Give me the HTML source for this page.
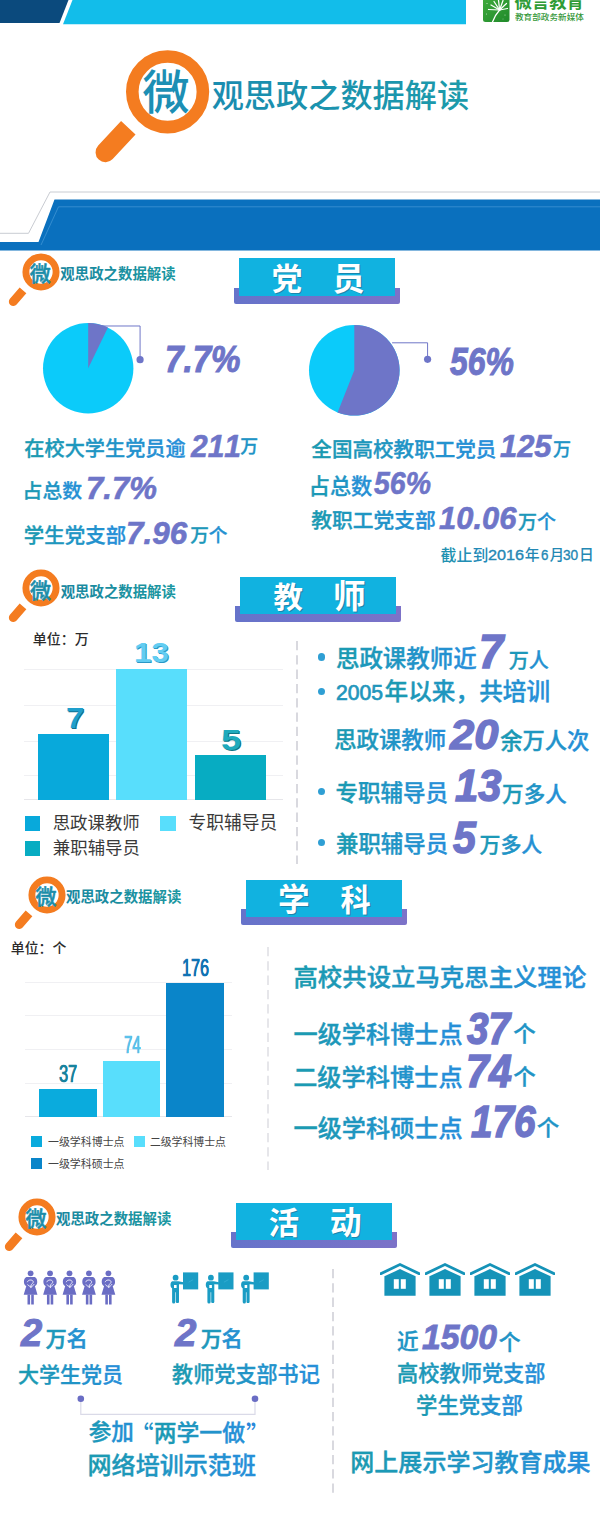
<!DOCTYPE html>
<html lang="zh"><head><meta charset="utf-8"><title>微观思政之数据解读</title>
<style>
html,body{margin:0;padding:0;background:#fff}
body{width:600px;height:1514px;position:relative;overflow:hidden;font-family:"Liberation Sans","Noto Sans CJK SC",sans-serif}
.t,.n,.b,.s{position:absolute;display:block}
.t{overflow:visible}
.n{line-height:1;font-kerning:none;white-space:nowrap;transform-origin:0 0;margin:0}
</style></head><body>
<svg class="s" style="left:0;top:0" width="600" height="30" viewBox="0 0 600 30">
<polygon points="0,0 68.5,0 59.5,23 0,23" fill="#0b4a7d"/>
<polygon points="72.5,0 466,0 466,24.3 63,24.3" fill="#12bdea"/>
<defs><linearGradient id="lgG" x1="0" y1="0" x2="1" y2="1"><stop offset="0" stop-color="#3fa93c"/><stop offset="1" stop-color="#1f8a2a"/></linearGradient></defs>
<path d="M483,0H509.500V19.500a2.500,2.500 0 0 1 -2.500,2.500H485.500a2.500,2.500 0 0 1 -2.500,-2.500Z" fill="url(#lgG)"/>
<g stroke="#fff" stroke-width="1.25" fill="none" stroke-linecap="round">
<path d="M492.5,22C494,17.500 496,14 499.600,10"/>
<path d="M499.600,10L491,5"/><path d="M499.600,10L494,1.500"/><path d="M499.600,10L498.500,0"/><path d="M499.600,10L503,0.500"/><path d="M499.600,10L506.500,3.500"/><path d="M499.600,10L507.500,8.500"/><path d="M499.600,10L488.500,9.500"/>
</g>
<g fill="#fff" opacity=".8"><circle cx="487" cy="3.500" r=".55"/><circle cx="486.500" cy="14" r=".5"/><circle cx="505" cy="15" r=".5"/><circle cx="503" cy="19" r=".4"/></g>
</svg>
<span class="n" style="left:514.41px;top:-6.2px;font-size:17.4px;font-weight:700;color:#2f9c36">微言教育</span>
<span class="n" style="left:514.98px;top:13.86px;font-size:7.85px;font-weight:500;color:#35983a;transform:scaleX(1.099)">教育部政务新媒体</span>
<svg class="s" style="left:80px;top:40px" width="150" height="140" viewBox="80 40 150 140">
<circle cx="167.6" cy="91.8" r="35.3" fill="none" stroke="#f47c20" stroke-width="12.6"/>
<path transform="translate(128.3,127.8) rotate(43)" d="M-9.9,0H9.9V33.5A9.9,9.9 0 0 1 -9.9,33.5Z" fill="#f47c20"/>
</svg>
<span class="n" style="left:142.54px;top:68.9px;font-size:47.14px;font-weight:500;color:#1c8fb4">微</span>
<span class="n" style="left:211.63px;top:79.5px;font-size:32.18px;font-weight:500;color:#1a8cb0"><span style="color:#1a8db0">观</span><span style="color:#1a8faf">思</span><span style="color:#1b91ae">政</span><span style="color:#1b93ae">之</span><span style="color:#1b94ad">数</span><span style="color:#1b96ad">据</span><span style="color:#1c98ac">解</span><span style="color:#1c9aab">读</span></span>
<svg class="s" style="left:0;top:185px" width="600" height="72" viewBox="0 185 600 72">
<polygon points="54.5,199.600 600,199.600 600,250.500 0,250.500 0,242 38.500,242" fill="#0a70be"/>
<polyline points="0,233.300 28.500,233.300 50,192 600,192" fill="none" stroke="#c9ccd2" stroke-width="1"/>
<polyline points="41,245 58.500,206.800 600,206.800" fill="none" stroke="#3f94d4" stroke-width="0.8"/>
</svg>
<svg class="s" style="left:-0.20000000000000284px;top:249.60000000000002px" width="62" height="60" viewBox="-41 -22 62 60">
<circle cx="0" cy="0" r="15.1" fill="none" stroke="#f47c20" stroke-width="6.9"/>
<path transform="translate(-18,18.3) rotate(40.5)" d="M-4.4,0H4.4V15A4.4,4.4 0 0 1 -4.4,15Z" fill="#f47c20"/>
</svg>
<span class="n" style="left:29.71px;top:262.96px;font-size:21.02px;font-weight:500;color:#1b8da9;-webkit-text-stroke:.53px #1b8da9">微</span>
<span class="n" style="left:60.36px;top:267.3px;font-size:14.41px;font-weight:700;color:#19879f"><span style="color:#19889f">观</span><span style="color:#198aa0">思</span><span style="color:#1a8ca0">政</span><span style="color:#1a8ea0">之</span><span style="color:#1a91a1">数</span><span style="color:#1a93a1">据</span><span style="color:#1b95a1">解</span><span style="color:#1b97a2">读</span></span>
<div class="b" style="left:233.7px;top:287.5px;width:166.10000000000002px;height:16.100000000000023px;background:#7471c9;border-radius:0 0 2px 2px;background:linear-gradient(90deg,#6673ca,#7c72c8)"></div>
<div class="b" style="left:239px;top:258.3px;width:155.5px;height:37.30000000000001px;background:#11b2e0;"></div>
<span class="n" style="left:271.66px;top:264.1px;font-size:30.5px;font-weight:700;color:#fff;text-shadow:1.2px 1px 0 rgba(40,80,110,.45)">党</span>
<span class="n" style="left:332.47px;top:262.5px;font-size:32.11px;font-weight:700;color:#fff;text-shadow:1.2px 1px 0 rgba(40,80,110,.45)">员</span>
<svg class="s" style="left:0.10000000000000142px;top:566.3px" width="62" height="60" viewBox="-41 -22 62 60">
<circle cx="0" cy="0" r="15.1" fill="none" stroke="#f47c20" stroke-width="6.9"/>
<path transform="translate(-18,18.3) rotate(40.5)" d="M-4.4,0H4.4V15A4.4,4.4 0 0 1 -4.4,15Z" fill="#f47c20"/>
</svg>
<span class="n" style="left:30.01px;top:579.66px;font-size:21.02px;font-weight:500;color:#1b8da9;-webkit-text-stroke:.53px #1b8da9">微</span>
<span class="n" style="left:60.66px;top:585.3px;font-size:14.41px;font-weight:700;color:#19879f"><span style="color:#19889f">观</span><span style="color:#198aa0">思</span><span style="color:#1a8ca0">政</span><span style="color:#1a8ea0">之</span><span style="color:#1a91a1">数</span><span style="color:#1a93a1">据</span><span style="color:#1b95a1">解</span><span style="color:#1b97a2">读</span></span>
<div class="b" style="left:235.0px;top:605.9000000000001px;width:166.10000000000002px;height:16.09999999999991px;background:#7471c9;border-radius:0 0 2px 2px;background:linear-gradient(90deg,#6673ca,#7c72c8)"></div>
<div class="b" style="left:240.3px;top:576.7px;width:155.5px;height:37.299999999999955px;background:#11b2e0;"></div>
<span class="n" style="left:273.5px;top:582.9px;font-size:29.39px;font-weight:700;color:#fff;text-shadow:1.2px 1px 0 rgba(40,80,110,.45)">教</span>
<span class="n" style="left:333.12px;top:581.45px;font-size:32.65px;font-weight:700;color:#fff;text-shadow:1.2px 1px 0 rgba(40,80,110,.45)">师</span>
<svg class="s" style="left:5.5px;top:872.6px" width="62" height="60" viewBox="-41 -22 62 60">
<circle cx="0" cy="0" r="15.1" fill="none" stroke="#f47c20" stroke-width="6.9"/>
<path transform="translate(-18,18.3) rotate(40.5)" d="M-4.4,0H4.4V15A4.4,4.4 0 0 1 -4.4,15Z" fill="#f47c20"/>
</svg>
<span class="n" style="left:35.41px;top:885.96px;font-size:21.02px;font-weight:500;color:#1b8da9;-webkit-text-stroke:.53px #1b8da9">微</span>
<span class="n" style="left:66.06px;top:890.3px;font-size:14.41px;font-weight:700;color:#19879f"><span style="color:#19889f">观</span><span style="color:#198aa0">思</span><span style="color:#1a8ca0">政</span><span style="color:#1a8ea0">之</span><span style="color:#1a91a1">数</span><span style="color:#1a93a1">据</span><span style="color:#1b95a1">解</span><span style="color:#1b97a2">读</span></span>
<div class="b" style="left:240.7px;top:909.2px;width:166.10000000000002px;height:16.09999999999991px;background:#7471c9;border-radius:0 0 2px 2px;background:linear-gradient(90deg,#6673ca,#7c72c8)"></div>
<div class="b" style="left:246px;top:880px;width:155.5px;height:37.299999999999955px;background:#11b2e0;"></div>
<span class="n" style="left:277.99px;top:885.45px;font-size:31.62px;font-weight:700;color:#fff;text-shadow:1.2px 1px 0 rgba(40,80,110,.45)">学</span>
<span class="n" style="left:340.6px;top:885.9px;font-size:30.16px;font-weight:700;color:#fff;text-shadow:1.2px 1px 0 rgba(40,80,110,.45)">科</span>
<svg class="s" style="left:-4.5px;top:1195px" width="62" height="60" viewBox="-41 -22 62 60">
<circle cx="0" cy="0" r="15.1" fill="none" stroke="#f47c20" stroke-width="6.9"/>
<path transform="translate(-18,18.3) rotate(40.5)" d="M-4.4,0H4.4V15A4.4,4.4 0 0 1 -4.4,15Z" fill="#f47c20"/>
</svg>
<span class="n" style="left:25.41px;top:1208.36px;font-size:21.02px;font-weight:500;color:#1b8da9;-webkit-text-stroke:.53px #1b8da9">微</span>
<span class="n" style="left:56.06px;top:1211.8px;font-size:14.41px;font-weight:700;color:#19879f"><span style="color:#19889f">观</span><span style="color:#198aa0">思</span><span style="color:#1a8ca0">政</span><span style="color:#1a8ea0">之</span><span style="color:#1a91a1">数</span><span style="color:#1a93a1">据</span><span style="color:#1b95a1">解</span><span style="color:#1b97a2">读</span></span>
<div class="b" style="left:230.7px;top:1231.9px;width:166.10000000000002px;height:16.09999999999991px;background:#7471c9;border-radius:0 0 2px 2px;background:linear-gradient(90deg,#6673ca,#7c72c8)"></div>
<div class="b" style="left:236px;top:1202.7px;width:155.5px;height:37.299999999999955px;background:#11b2e0;"></div>
<span class="n" style="left:268.64px;top:1208.5px;font-size:30.36px;font-weight:700;color:#fff;text-shadow:1.2px 1px 0 rgba(40,80,110,.45)">活</span>
<span class="n" style="left:329.67px;top:1207.6px;font-size:31.86px;font-weight:700;color:#fff;text-shadow:1.2px 1px 0 rgba(40,80,110,.45)">动</span>
<svg class="s" style="left:40.9px;top:321.0px" width="105.1" height="94.4" viewBox="40.9 321.0 105.1 94.4">
<circle cx="88.1" cy="368.2" r="45.2" fill="#0bcbfa"/>
<path d="M88.1,368.2L88.1,323.0A45.2,45.2 0 0 1 107.86,327.55Z" fill="#6e75c8"/>
<polyline points="98,326 140,326 140,359.7" fill="none" stroke="#6e75c8" stroke-width="1"/>
<circle cx="140" cy="359.7" r="3.6" fill="#6e75c8"/>
</svg>
<svg class="s" style="left:306.6px;top:322.7px" width="126.6" height="94.6" viewBox="306.6 322.7 126.6 94.6">
<circle cx="353.9" cy="370" r="45.3" fill="#0bcbfa"/>
<path d="M353.9,370L353.9,324.7A45.3,45.3 0 1 1 337.22,412.12Z" fill="#6e75c8"/>
<polyline points="391.7,342.5 427.2,342.5 427.2,359" fill="none" stroke="#6e75c8" stroke-width="1"/>
<circle cx="427.2" cy="359" r="3.6" fill="#6e75c8"/>
</svg>
<span class="n" style="left:164.60px;top:340.95px;font-size:37.77px;font-weight:700;font-style:italic;color:#6e75c8;transform:scaleX(0.8773);-webkit-text-stroke:1.02px #6e75c8;">7.7%</span>
<span class="n" style="left:449.81px;top:343.60px;font-size:37.92px;font-weight:700;font-style:italic;color:#6e75c8;transform:scaleX(0.8425);-webkit-text-stroke:1.05px #6e75c8;">56%</span>
<span class="n" style="left:24.36px;top:438.6px;font-size:20.15px;font-weight:500;color:#1a9bb0;-webkit-text-stroke-width:.32px"><span style="color:#1b9ab2">在</span><span style="color:#1c99b8">校</span><span style="color:#1e97bd">大</span><span style="color:#2095c3">学</span><span style="color:#2194c8">生</span><span style="color:#2392ce">党</span><span style="color:#2590d3">员</span><span style="color:#268fd8">逾</span></span>
<span class="n" style="left:190.75px;top:430.69px;font-size:30.98px;font-weight:700;font-style:italic;color:#6e75c8;transform:scaleX(0.9688);-webkit-text-stroke:0.57px #6e75c8;">211</span>
<span class="n" style="left:240.22px;top:439.2px;font-size:17.85px;font-weight:500;color:#2094c6;-webkit-text-stroke-width:.29px">万</span>
<span class="n" style="left:22.60px;top:481.9px;font-size:19.86px;font-weight:500;color:#1a9bb0;-webkit-text-stroke-width:.32px"><span style="color:#1c99b6">占</span><span style="color:#2095c5">总</span><span style="color:#2590d4">数</span></span>
<span class="n" style="left:86.14px;top:473.30px;font-size:31.49px;font-weight:700;font-style:italic;color:#6e75c8;transform:scaleX(0.9881);-webkit-text-stroke:0.62px #6e75c8;">7.7%</span>
<span class="n" style="left:23.81px;top:525.7px;font-size:20.47px;font-weight:500;color:#1a9bb0;-webkit-text-stroke-width:.33px"><span style="color:#1b9ab4">学</span><span style="color:#1e97bd">生</span><span style="color:#2095c5">党</span><span style="color:#2392ce">支</span><span style="color:#268fd7">部</span></span>
<span class="n" style="left:125.92px;top:517.99px;font-size:31.19px;font-weight:700;font-style:italic;color:#6e75c8;transform:scaleX(1.0067);-webkit-text-stroke:0.62px #6e75c8;">7.96</span>
<span class="n" style="left:190.20px;top:526.8px;font-size:18.64px;font-weight:500;color:#1a9bb0;-webkit-text-stroke-width:.3px"><span style="color:#1d98ba">万</span><span style="color:#2491d1">个</span></span>
<span class="n" style="left:311.37px;top:439.65px;font-size:20.56px;font-weight:500;color:#1a9bb0;-webkit-text-stroke-width:.33px"><span style="color:#1b9ab2">全</span><span style="color:#1c99b7">国</span><span style="color:#1e97bc">高</span><span style="color:#1f96c1">校</span><span style="color:#2194c6">教</span><span style="color:#2293ca">职</span><span style="color:#2392cf">工</span><span style="color:#2590d4">党</span><span style="color:#268fd9">员</span></span>
<span class="n" style="left:499.82px;top:431.17px;font-size:31.31px;font-weight:700;font-style:italic;color:#6e75c8;transform:scaleX(0.9859);-webkit-text-stroke:0.63px #6e75c8;">125</span>
<span class="n" style="left:553.01px;top:440.5px;font-size:18.07px;font-weight:500;color:#2094c6;-webkit-text-stroke-width:.29px">万</span>
<span class="n" style="left:308.71px;top:475.7px;font-size:21.17px;font-weight:500;color:#1a9bb0;-webkit-text-stroke-width:.34px"><span style="color:#1c99b6">占</span><span style="color:#2095c5">总</span><span style="color:#2590d4">数</span></span>
<span class="n" style="left:374.02px;top:468.51px;font-size:30.93px;font-weight:700;font-style:italic;color:#6e75c8;transform:scaleX(0.9202);-webkit-text-stroke:0.6px #6e75c8;">56%</span>
<span class="n" style="left:311.26px;top:510.7px;font-size:20.77px;font-weight:500;color:#1a9bb0;-webkit-text-stroke-width:.33px"><span style="color:#1b9ab3">教</span><span style="color:#1d98bb">职</span><span style="color:#1f96c2">工</span><span style="color:#2293c9">党</span><span style="color:#2491d0">支</span><span style="color:#268fd8">部</span></span>
<span class="n" style="left:439.10px;top:503.71px;font-size:30.93px;font-weight:700;font-style:italic;color:#6e75c8;transform:scaleX(1.0004);-webkit-text-stroke:0.6px #6e75c8;">10.06</span>
<span class="n" style="left:517.99px;top:512.6px;font-size:19px;font-weight:500;color:#1a9bb0;-webkit-text-stroke-width:.3px"><span style="color:#1d98ba">万</span><span style="color:#2491d1">个</span></span>
<span class="n" style="left:440.54px;top:547.9px;font-size:15.91px;font-weight:500;color:#1f93b0"><span style="color:#2091b1">截</span><span style="color:#228eb4">止</span><span style="color:#238ab7">到</span></span>
<span class="n" style="left:487.86px;top:547.99px;font-size:14.76px;;color:#2488b4;transform:scaleX(1.1020);-webkit-text-stroke:0.35px #2488b4;">2016</span>
<span class="n" style="left:524.85px;top:548.4px;font-size:14.79px;font-weight:500;color:#2488b4">年</span>
<span class="n" style="left:540.50px;top:547.99px;font-size:14.76px;;color:#2488b4;transform:scaleX(0.9030);-webkit-text-stroke:0.35px #2488b4;">6</span>
<span class="n" style="left:549.63px;top:548.25px;font-size:14.3px;font-weight:500;color:#2488b4">月</span>
<span class="n" style="left:563.15px;top:547.99px;font-size:14.76px;;color:#2488b4;transform:scaleX(0.9261);-webkit-text-stroke:0.35px #2488b4;">30</span>
<span class="n" style="left:579.02px;top:548px;font-size:14.84px;font-weight:500;color:#2488b4">日</span>
<span class="n" style="left:32.79px;top:633.35px;font-size:13.96px;font-weight:500;color:#2b2b2b">单位：万</span>
<div class="b" style="left:24px;top:669px;width:259px;height:1px;background:#f0f0f3;"></div>
<div class="b" style="left:24px;top:705px;width:259px;height:1px;background:#f0f0f3;"></div>
<div class="b" style="left:24px;top:741px;width:259px;height:1px;background:#f0f0f3;"></div>
<div class="b" style="left:24px;top:775px;width:259px;height:1px;background:#f0f0f3;"></div>
<div class="b" style="left:24px;top:799px;width:259px;height:1px;background:#e6e6ea;"></div>
<div class="b" style="left:37.5px;top:734px;width:71.5px;height:65.5px;background:#08a9db;"></div>
<div class="b" style="left:116.3px;top:669px;width:70.89999999999999px;height:130.5px;background:#58defc;"></div>
<div class="b" style="left:195px;top:755px;width:71px;height:44.5px;background:#07acc2;"></div>
<span class="n" style="left:65.88px;top:703.25px;font-size:29.94px;font-weight:700;color:#1f9fcc;transform:scaleX(1.1032);text-shadow:0.9px 0.9px 0.6px #136f8f;">7</span>
<span class="n" style="left:134.33px;top:638.66px;font-size:27.91px;font-weight:700;color:#62cdf2;transform:scaleX(1.1211);text-shadow:0.9px 0.9px 0.6px #2a98c6;">13</span>
<span class="n" style="left:220.89px;top:725.12px;font-size:29.52px;font-weight:700;color:#1faabc;transform:scaleX(1.2254);text-shadow:0.9px 0.9px 0.6px #0f7585;">5</span>
<div class="b" style="left:25px;top:816px;width:15px;height:15px;background:#08a9db;"></div>
<span class="n" style="left:52.64px;top:815.3px;font-size:17.45px;color:#3a3a3a">思政课教师</span>
<div class="b" style="left:160px;top:816px;width:16px;height:15px;background:#58defc;"></div>
<span class="n" style="left:188.51px;top:815.2px;font-size:17.73px;color:#3a3a3a">专职辅导员</span>
<div class="b" style="left:25px;top:841px;width:15px;height:15px;background:#07acc2;"></div>
<span class="n" style="left:52.82px;top:840.3px;font-size:17.46px;color:#3a3a3a">兼职辅导员</span>
<svg class="s" style="left:294.8px;top:641px" width="4" height="223"><line x1="2" y1="0" x2="2" y2="223" stroke="#d9d9df" stroke-width="2" stroke-dasharray="9.3 5"/></svg>
<svg class="s" style="left:265.9px;top:946.5px" width="4" height="223.5"><line x1="2" y1="0" x2="2" y2="223.5" stroke="#e6e6ea" stroke-width="2" stroke-dasharray="9.3 5"/></svg>
<svg class="s" style="left:331.4px;top:1268.6px" width="4" height="225.9000000000001"><line x1="2" y1="0" x2="2" y2="225.9000000000001" stroke="#d9d9df" stroke-width="2" stroke-dasharray="9.3 5"/></svg>
<div class="b" style="left:318.09999999999997px;top:653.4px;width:7.2px;height:7.2px;border-radius:50%;background:#2f9fd4"></div>
<span class="n" style="left:335.99px;top:648px;font-size:23.45px;font-weight:500;color:#1a9bb0;-webkit-text-stroke-width:.38px"><span style="color:#1b9ab3">思</span><span style="color:#1d98bb">政</span><span style="color:#1f96c2">课</span><span style="color:#2293c9">教</span><span style="color:#2491d0">师</span><span style="color:#268fd8">近</span></span>
<span class="n" style="left:479.28px;top:626.67px;font-size:48.21px;font-weight:700;font-style:italic;color:#6e75c8;transform:scaleX(0.9029);-webkit-text-stroke:1.63px #6e75c8;">7</span>
<span class="n" style="left:508.76px;top:650.8px;font-size:20.06px;font-weight:500;color:#1a9bb0;-webkit-text-stroke-width:.32px"><span style="color:#1d98ba">万</span><span style="color:#2491d1">人</span></span>
<div class="b" style="left:318.09999999999997px;top:688.0px;width:7.2px;height:7.2px;border-radius:50%;background:#2f9fd4"></div>
<span class="n" style="left:336.29px;top:682.15px;font-size:21.61px;;color:#1f96bc;transform:scaleX(0.9787);-webkit-text-stroke:0.7px #1f96bc;">2005</span>
<span class="n" style="left:384.46px;top:681.4px;font-size:23.67px;font-weight:500;color:#1a9bb0;-webkit-text-stroke-width:.38px"><span style="color:#1b9ab3">年</span><span style="color:#1d98b9">以</span><span style="color:#1f96bf">来</span><span style="color:#2095c4">，</span><span style="color:#2293cc">共</span><span style="color:#2491d2">培</span><span style="color:#268fd8">训</span></span>
<span class="n" style="left:334.24px;top:730.2px;font-size:22.37px;font-weight:500;color:#1a9bb0;-webkit-text-stroke-width:.36px"><span style="color:#1b9ab4">思</span><span style="color:#1e97bd">政</span><span style="color:#2194c6">课</span><span style="color:#2392ce">教</span><span style="color:#268fd7">师</span></span>
<span class="n" style="left:450.38px;top:712.91px;font-size:43.09px;font-weight:700;font-style:italic;color:#6e75c8;transform:scaleX(1.0130);-webkit-text-stroke:1.39px #6e75c8;">20</span>
<span class="n" style="left:500.26px;top:730.95px;font-size:22.24px;font-weight:500;color:#1a9bb0;-webkit-text-stroke-width:.36px"><span style="color:#1c99b5">余</span><span style="color:#1f96c0">万</span><span style="color:#2293cb">人</span><span style="color:#2590d6">次</span></span>
<div class="b" style="left:318.09999999999997px;top:788.1px;width:7.2px;height:7.2px;border-radius:50%;background:#2f9fd4"></div>
<span class="n" style="left:335.61px;top:782.5px;font-size:22.49px;font-weight:500;color:#1a9bb0;-webkit-text-stroke-width:.36px"><span style="color:#1b9ab4">专</span><span style="color:#1e97bd">职</span><span style="color:#2095c5">辅</span><span style="color:#2392ce">导</span><span style="color:#268fd7">员</span></span>
<span class="n" style="left:454.58px;top:763.60px;font-size:44.90px;font-weight:700;font-style:italic;color:#6e75c8;transform:scaleX(0.9276);-webkit-text-stroke:1.51px #6e75c8;">13</span>
<span class="n" style="left:502.12px;top:783.7px;font-size:21.57px;font-weight:500;color:#1a9bb0;-webkit-text-stroke-width:.35px"><span style="color:#1c99b7">万</span><span style="color:#2194c6">多</span><span style="color:#2590d4">人</span></span>
<div class="b" style="left:318.09999999999997px;top:838.6999999999999px;width:7.2px;height:7.2px;border-radius:50%;background:#2f9fd4"></div>
<span class="n" style="left:335.99px;top:834px;font-size:22.42px;font-weight:500;color:#1a9bb0;-webkit-text-stroke-width:.36px"><span style="color:#1b9ab4">兼</span><span style="color:#1e97bd">职</span><span style="color:#2194c6">辅</span><span style="color:#2392ce">导</span><span style="color:#268fd7">员</span></span>
<span class="n" style="left:452.92px;top:815.66px;font-size:44.51px;font-weight:700;font-style:italic;color:#6e75c8;transform:scaleX(0.9242);-webkit-text-stroke:1.44px #6e75c8;">5</span>
<span class="n" style="left:479.43px;top:835.2px;font-size:20.96px;font-weight:500;color:#1a9bb0;-webkit-text-stroke-width:.34px"><span style="color:#1c99b7">万</span><span style="color:#2194c6">多</span><span style="color:#2590d4">人</span></span>
<span class="n" style="left:10.79px;top:942.1px;font-size:13.89px;font-weight:500;color:#2b2b2b">单位：个</span>
<div class="b" style="left:25px;top:982px;width:207px;height:1px;background:#f0f0f3;"></div>
<div class="b" style="left:25px;top:1015px;width:207px;height:1px;background:#f0f0f3;"></div>
<div class="b" style="left:25px;top:1048.5px;width:207px;height:1.0px;background:#f0f0f3;"></div>
<div class="b" style="left:25px;top:1082.5px;width:207px;height:1.0px;background:#f0f0f3;"></div>
<div class="b" style="left:25px;top:1116px;width:207px;height:1px;background:#e6e6ea;"></div>
<div class="b" style="left:39px;top:1089px;width:57.5px;height:27.5px;background:#0aabdd;"></div>
<div class="b" style="left:102.5px;top:1061px;width:57.5px;height:55.5px;background:#58defc;"></div>
<div class="b" style="left:166px;top:982.5px;width:57.5px;height:134.0px;background:#0a85c9;"></div>
<span class="n" style="left:59.03px;top:1061.99px;font-size:24.72px;;color:#17849f;transform:scaleX(0.6599);text-shadow:0.4px 0.4px 0.3px #0e5f75;-webkit-text-stroke:0.7px #17849f;">37</span>
<span class="n" style="left:123.59px;top:1032.93px;font-size:24.71px;;color:#5cc3ec;transform:scaleX(0.6001);text-shadow:0.4px 0.4px 0.3px #2b97c4;-webkit-text-stroke:0.7px #5cc3ec;">74</span>
<span class="n" style="left:181.83px;top:956.27px;font-size:24.15px;;color:#0f74b6;transform:scaleX(0.6658);text-shadow:0.4px 0.4px 0.3px #0a5286;-webkit-text-stroke:0.7px #0f74b6;">176</span>
<div class="b" style="left:30.8px;top:1136.3px;width:11.2px;height:11.0px;background:#0aabdd;"></div>
<span class="n" style="left:48.02px;top:1136.9px;font-size:10.93px;color:#444">一级学科博士点</span>
<div class="b" style="left:134px;top:1136.3px;width:11.199999999999989px;height:11.0px;background:#58defc;"></div>
<span class="n" style="left:149.88px;top:1136.95px;font-size:10.88px;color:#444">二级学科博士点</span>
<div class="b" style="left:30.8px;top:1158.2px;width:11.2px;height:11.0px;background:#0a85c9;"></div>
<span class="n" style="left:48.02px;top:1158.9px;font-size:10.93px;color:#444">一级学科硕士点</span>
<span class="n" style="left:293.41px;top:966.2px;font-size:24.4px;font-weight:500;color:#1a9bb0;-webkit-text-stroke-width:.39px"><span style="color:#1a9bb2">高</span><span style="color:#1c99b5">校</span><span style="color:#1d98b9">共</span><span style="color:#1e97bc">设</span><span style="color:#1f96c0">立</span><span style="color:#2095c4">马</span><span style="color:#2194c7">克</span><span style="color:#2293cb">思</span><span style="color:#2392ce">主</span><span style="color:#2491d2">义</span><span style="color:#2590d6">理</span><span style="color:#268fd9">论</span></span>
<span class="n" style="left:293.48px;top:1023.2px;font-size:24.18px;font-weight:500;color:#1a9bb0;-webkit-text-stroke-width:.39px"><span style="color:#1b9ab3">一</span><span style="color:#1d98b9">级</span><span style="color:#1f96bf">学</span><span style="color:#2095c5">科</span><span style="color:#2293cc">博</span><span style="color:#2491d2">士</span><span style="color:#268fd8">点</span></span>
<span class="n" style="left:467.12px;top:1007.22px;font-size:43.87px;font-weight:700;font-style:italic;color:#6e75c8;transform:scaleX(0.8842);-webkit-text-stroke:1.44px #6e75c8;">37</span>
<span class="n" style="left:513.13px;top:1024.35px;font-size:22.43px;font-weight:500;color:#2094c6;-webkit-text-stroke-width:.36px">个</span>
<span class="n" style="left:293.14px;top:1066.35px;font-size:24.22px;font-weight:500;color:#1a9bb0;-webkit-text-stroke-width:.39px"><span style="color:#1b9ab3">二</span><span style="color:#1d98b9">级</span><span style="color:#1f96bf">学</span><span style="color:#2095c5">科</span><span style="color:#2293cc">博</span><span style="color:#2491d2">士</span><span style="color:#268fd8">点</span></span>
<span class="n" style="left:465.87px;top:1048.98px;font-size:45.81px;font-weight:700;font-style:italic;color:#6e75c8;transform:scaleX(0.8987);-webkit-text-stroke:1.48px #6e75c8;">74</span>
<span class="n" style="left:513.13px;top:1067.35px;font-size:22.43px;font-weight:500;color:#2094c6;-webkit-text-stroke-width:.36px">个</span>
<span class="n" style="left:293.48px;top:1116.8px;font-size:24.18px;font-weight:500;color:#1a9bb0;-webkit-text-stroke-width:.39px"><span style="color:#1b9ab3">一</span><span style="color:#1d98b9">级</span><span style="color:#1f96bf">学</span><span style="color:#2095c5">科</span><span style="color:#2293cc">硕</span><span style="color:#2491d2">士</span><span style="color:#268fd8">点</span></span>
<span class="n" style="left:470.59px;top:1101.24px;font-size:43.62px;font-weight:700;font-style:italic;color:#6e75c8;transform:scaleX(0.8863);-webkit-text-stroke:1.42px #6e75c8;">176</span>
<span class="n" style="left:536.93px;top:1118.15px;font-size:22.22px;font-weight:500;color:#2094c6;-webkit-text-stroke-width:.36px">个</span>
<svg class="s" style="left:15px;top:1265px" width="110" height="45" viewBox="15 1265 110 45" fill="#6a6dc4"><g transform="translate(30.6,1273.3)"><circle r="2.9"/><path d="M-3.2,3.8H3.200C5.800,3.800 6.800,6.500 6.600,9.500C6.500,11.500 5,12.600 4.300,12.800L6.900,21.400H-6.900L-4.300,12.800C-5,12.600 -6.500,11.500 -6.600,9.500C-6.800,6.500 -5.800,3.800 -3.200,3.800Z"/><rect x="-3.1" y="21.2" width="2.6" height="10"/><rect x="0.6" y="21.2" width="2.6" height="10"/><g fill="none" stroke="#efeffa" stroke-width=".95" stroke-linecap="round"><path d="M-3.200,8.500C-2.500,6.300 1.800,6 2.600,8.200C3.200,10 0.500,10.500 0.300,12.200"/><path d="M-2.800,11.500C-1.500,14 2.500,13.600 3.400,11.200"/><circle cx="0.200" cy="13.800" r=".3"/></g></g><g transform="translate(50.05,1273.3)"><circle r="2.9"/><path d="M-3.2,3.8H3.200C5.800,3.800 6.800,6.500 6.600,9.500C6.500,11.500 5,12.600 4.300,12.800L6.900,21.400H-6.900L-4.300,12.800C-5,12.600 -6.500,11.500 -6.600,9.500C-6.800,6.500 -5.800,3.800 -3.200,3.800Z"/><rect x="-3.1" y="21.2" width="2.6" height="10"/><rect x="0.6" y="21.2" width="2.6" height="10"/><g fill="none" stroke="#efeffa" stroke-width=".95" stroke-linecap="round"><path d="M-3.200,8.500C-2.500,6.300 1.800,6 2.600,8.200C3.200,10 0.500,10.500 0.300,12.200"/><path d="M-2.800,11.500C-1.500,14 2.500,13.600 3.400,11.200"/><circle cx="0.200" cy="13.800" r=".3"/></g></g><g transform="translate(69.5,1273.3)"><circle r="2.9"/><path d="M-3.2,3.8H3.200C5.800,3.800 6.800,6.500 6.600,9.500C6.500,11.500 5,12.600 4.300,12.800L6.900,21.400H-6.900L-4.300,12.800C-5,12.600 -6.500,11.500 -6.600,9.500C-6.800,6.500 -5.800,3.800 -3.200,3.800Z"/><rect x="-3.1" y="21.2" width="2.6" height="10"/><rect x="0.6" y="21.2" width="2.6" height="10"/><g fill="none" stroke="#efeffa" stroke-width=".95" stroke-linecap="round"><path d="M-3.200,8.500C-2.500,6.300 1.800,6 2.600,8.200C3.200,10 0.500,10.500 0.300,12.200"/><path d="M-2.800,11.500C-1.500,14 2.500,13.600 3.400,11.200"/><circle cx="0.200" cy="13.800" r=".3"/></g></g><g transform="translate(88.94999999999999,1273.3)"><circle r="2.9"/><path d="M-3.2,3.8H3.200C5.800,3.800 6.800,6.500 6.600,9.500C6.500,11.500 5,12.600 4.300,12.800L6.900,21.400H-6.900L-4.300,12.800C-5,12.600 -6.500,11.500 -6.600,9.500C-6.800,6.500 -5.800,3.800 -3.200,3.800Z"/><rect x="-3.1" y="21.2" width="2.6" height="10"/><rect x="0.6" y="21.2" width="2.6" height="10"/><g fill="none" stroke="#efeffa" stroke-width=".95" stroke-linecap="round"><path d="M-3.200,8.500C-2.500,6.300 1.800,6 2.600,8.200C3.200,10 0.500,10.500 0.300,12.200"/><path d="M-2.800,11.500C-1.500,14 2.500,13.600 3.400,11.200"/><circle cx="0.200" cy="13.800" r=".3"/></g></g><g transform="translate(108.4,1273.3)"><circle r="2.9"/><path d="M-3.2,3.8H3.200C5.800,3.800 6.800,6.500 6.600,9.500C6.500,11.500 5,12.600 4.300,12.800L6.900,21.400H-6.900L-4.300,12.800C-5,12.600 -6.500,11.500 -6.600,9.500C-6.800,6.500 -5.800,3.800 -3.200,3.800Z"/><rect x="-3.1" y="21.2" width="2.6" height="10"/><rect x="0.6" y="21.2" width="2.6" height="10"/><g fill="none" stroke="#efeffa" stroke-width=".95" stroke-linecap="round"><path d="M-3.200,8.500C-2.500,6.300 1.800,6 2.600,8.200C3.200,10 0.500,10.500 0.300,12.200"/><path d="M-2.800,11.500C-1.500,14 2.500,13.600 3.400,11.200"/><circle cx="0.200" cy="13.800" r=".3"/></g></g></svg>
<svg class="s" style="left:165px;top:1268px" width="110" height="40" viewBox="165 1268 110 40" fill="#1a9cc4"><g transform="translate(175.6,1277.7)"><circle r="2.9"/><path d="M-3.300,3.600H2.800L8,4.600V6.800L3.400,6.600V24.200A1.600,1.600 0 0 1 0.300,24.200V14.500H-0.300V24.200A1.600,1.600 0 0 1 -3.500,24.200V10.500C-5.500,10 -5.800,4.200 -3.300,3.600Z"/><rect x="7.400" y="-5.300" width="15.200" height="17"/><rect x="-1.600" y="7.300" width="2.600" height="3" fill="#fff"/><path d="M13,4.500L17.500,2" stroke="#3fb3d8" stroke-width=".6"/></g><g transform="translate(210.89999999999998,1277.7)"><circle r="2.9"/><path d="M-3.300,3.600H2.800L8,4.600V6.800L3.400,6.600V24.200A1.600,1.600 0 0 1 0.300,24.200V14.500H-0.300V24.200A1.600,1.600 0 0 1 -3.500,24.200V10.500C-5.500,10 -5.800,4.200 -3.300,3.600Z"/><rect x="7.400" y="-5.300" width="15.200" height="17"/><rect x="-1.600" y="7.300" width="2.600" height="3" fill="#fff"/><path d="M13,4.500L17.500,2" stroke="#3fb3d8" stroke-width=".6"/></g><g transform="translate(246.2,1277.7)"><circle r="2.9"/><path d="M-3.300,3.600H2.800L8,4.600V6.800L3.400,6.600V24.200A1.600,1.600 0 0 1 0.300,24.200V14.500H-0.300V24.200A1.600,1.600 0 0 1 -3.500,24.200V10.500C-5.500,10 -5.800,4.200 -3.300,3.600Z"/><rect x="7.400" y="-5.300" width="15.200" height="17"/><rect x="-1.600" y="7.300" width="2.600" height="3" fill="#fff"/><path d="M13,4.500L17.500,2" stroke="#3fb3d8" stroke-width=".6"/></g></svg>
<svg class="s" style="left:375px;top:1260px" width="185" height="40" viewBox="375 1260 185 40" fill="#1593b8"><g transform="translate(400,1263.3)"><path d="M0,-0.300L20,9.200V11.600L18.600,11.600L0,2.800L-18.600,11.600L-20,11.600V9.200Z"/><path d="M0,5.800L15.600,13V32.500H-15.600V13Z"/><rect x="-6.200" y="15.900" width="5" height="9.600" fill="#fff"/><rect x="0.800" y="15.900" width="5" height="9.600" fill="#fff"/></g><g transform="translate(445,1263.3)"><path d="M0,-0.300L20,9.200V11.600L18.600,11.600L0,2.800L-18.600,11.600L-20,11.600V9.200Z"/><path d="M0,5.800L15.600,13V32.500H-15.600V13Z"/><rect x="-6.200" y="15.900" width="5" height="9.600" fill="#fff"/><rect x="0.800" y="15.900" width="5" height="9.600" fill="#fff"/></g><g transform="translate(490,1263.3)"><path d="M0,-0.300L20,9.200V11.600L18.600,11.600L0,2.800L-18.600,11.600L-20,11.600V9.200Z"/><path d="M0,5.800L15.600,13V32.500H-15.600V13Z"/><rect x="-6.200" y="15.900" width="5" height="9.600" fill="#fff"/><rect x="0.800" y="15.900" width="5" height="9.600" fill="#fff"/></g><g transform="translate(535,1263.3)"><path d="M0,-0.300L20,9.200V11.600L18.600,11.600L0,2.800L-18.600,11.600L-20,11.600V9.200Z"/><path d="M0,5.800L15.600,13V32.500H-15.600V13Z"/><rect x="-6.200" y="15.900" width="5" height="9.600" fill="#fff"/><rect x="0.800" y="15.900" width="5" height="9.600" fill="#fff"/></g></svg>
<span class="n" style="left:21.15px;top:1313.03px;font-size:39.24px;font-weight:700;font-style:italic;color:#6e75c8;transform:scaleX(0.9712);-webkit-text-stroke:1.1px #6e75c8;">2</span>
<span class="n" style="left:45.74px;top:1328.85px;font-size:20.92px;font-weight:500;color:#1a9bb0;-webkit-text-stroke-width:.63px"><span style="color:#1d98bb">万</span><span style="color:#2491d1">名</span></span>
<span class="n" style="left:17.96px;top:1364.2px;font-size:21.01px;font-weight:500;color:#1a9bb0;-webkit-text-stroke-width:.34px"><span style="color:#1b9ab4">大</span><span style="color:#1e97bd">学</span><span style="color:#2194c6">生</span><span style="color:#2392ce">党</span><span style="color:#268fd7">员</span></span>
<span class="n" style="left:175.45px;top:1313.03px;font-size:39.24px;font-weight:700;font-style:italic;color:#6e75c8;transform:scaleX(0.9803);-webkit-text-stroke:1.1px #6e75c8;">2</span>
<span class="n" style="left:200.94px;top:1328.85px;font-size:20.92px;font-weight:500;color:#1a9bb0;-webkit-text-stroke-width:.63px"><span style="color:#1d98bb">万</span><span style="color:#2491d1">名</span></span>
<span class="n" style="left:172.05px;top:1364.15px;font-size:21.12px;font-weight:500;color:#1a9bb0;-webkit-text-stroke-width:.34px"><span style="color:#1b9ab3">教</span><span style="color:#1d98b9">师</span><span style="color:#1f96bf">党</span><span style="color:#2194c6">支</span><span style="color:#2293cc">部</span><span style="color:#2491d2">书</span><span style="color:#268fd8">记</span></span>
<svg class="s" style="left:75px;top:1392px" width="190" height="28" viewBox="75 1392 190 28">
<polyline points="80.800,1399 80.800,1414.300 255,1414.300 255,1399" fill="none" stroke="#dadae8" stroke-width="1.200"/>
<circle cx="80.800" cy="1398.800" r="3.300" fill="#6a6dc4"/><circle cx="255" cy="1398.800" r="3.300" fill="#6a6dc4"/></svg>
<span class="n" style="left:88.78px;top:1422.15px;font-size:22.54px;font-weight:500;color:#1a9bb0;-webkit-text-stroke-width:.36px"><span style="color:#1d98bb">参</span><span style="color:#2491d1">加</span></span>
<span class="n" style="left:129.97px;top:1421.1px;font-size:26.19px;font-weight:500;font-family:'Noto Sans CJK SC','Liberation Sans',sans-serif;color:#2191c8;transform:scaleX(0.9)">“</span>
<span class="n" style="left:153.65px;top:1422px;font-size:22.87px;font-weight:500;color:#1a9bb0;-webkit-text-stroke-width:.37px"><span style="color:#1b9ab5">两</span><span style="color:#1f96c0">学</span><span style="color:#2293cb">一</span><span style="color:#2590d6">做</span></span>
<span class="n" style="left:245.73px;top:1421px;font-size:26.19px;font-weight:500;font-family:'Noto Sans CJK SC','Liberation Sans',sans-serif;color:#2a88da;transform:scaleX(0.922)">”</span>
<span class="n" style="left:87.50px;top:1454.2px;font-size:24.05px;font-weight:500;color:#1a9bb0;-webkit-text-stroke-width:.38px"><span style="color:#1b9ab3">网</span><span style="color:#1d98b9">络</span><span style="color:#1f96bf">培</span><span style="color:#2095c5">训</span><span style="color:#2293cc">示</span><span style="color:#2491d2">范</span><span style="color:#268fd8">班</span></span>
<span class="n" style="left:397.11px;top:1331.85px;font-size:21.54px;font-weight:500;color:#2095c5;-webkit-text-stroke-width:.34px">近</span>
<span class="n" style="left:421.88px;top:1319.76px;font-size:34.82px;font-weight:700;font-style:italic;color:#6e75c8;transform:scaleX(0.9686);-webkit-text-stroke:0.85px #6e75c8;">1500</span>
<span class="n" style="left:498.64px;top:1331.8px;font-size:21.9px;font-weight:500;color:#2194c6;-webkit-text-stroke-width:.35px">个</span>
<span class="n" style="left:397.09px;top:1363.15px;font-size:21.19px;font-weight:500;color:#1a9bb0;-webkit-text-stroke-width:.34px"><span style="color:#1b9ab3">高</span><span style="color:#1d98b9">校</span><span style="color:#1f96bf">教</span><span style="color:#2194c6">师</span><span style="color:#2293cc">党</span><span style="color:#2491d2">支</span><span style="color:#268fd8">部</span></span>
<span class="n" style="left:416.06px;top:1396.4px;font-size:21.33px;font-weight:500;color:#1a9bb0;-webkit-text-stroke-width:.34px"><span style="color:#1b9ab4">学</span><span style="color:#1e97bd">生</span><span style="color:#2095c5">党</span><span style="color:#2392ce">支</span><span style="color:#268fd7">部</span></span>
<span class="n" style="left:350.31px;top:1450.6px;font-size:24.02px;font-weight:500;color:#1a9bb0;-webkit-text-stroke-width:.38px"><span style="color:#1b9ab2">网</span><span style="color:#1c99b6">上</span><span style="color:#1d98ba">展</span><span style="color:#1e97bf">示</span><span style="color:#2095c3">学</span><span style="color:#2194c8">习</span><span style="color:#2293cc">教</span><span style="color:#2491d0">育</span><span style="color:#2590d5">成</span><span style="color:#268fd9">果</span></span>
</body></html>
